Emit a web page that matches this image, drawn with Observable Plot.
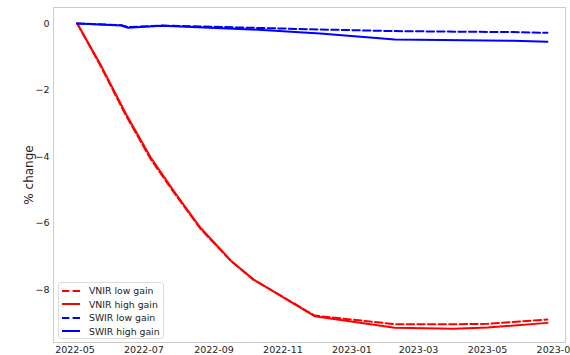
<!DOCTYPE html>
<html>
<head>
<meta charset="utf-8">
<script src="https://cdn.jsdelivr.net/npm/d3@7"></script>
<script src="https://cdn.jsdelivr.net/npm/@observablehq/plot@0.6"></script>
<style>
  html, body { margin: 0; padding: 0; background: #fff; }
  #wrap { position: relative; width: 570px; height: 355px; overflow: hidden; font-family: "DejaVu Sans", sans-serif; }
  #legend { position: absolute; left: 58px; top: 282px; width: 106px; height: 57px; border: 1px solid #dcdcdc; border-radius: 3px; background: rgba(255,255,255,0.85); box-sizing: border-box; padding-top: 1px; }
  .row { height: 13.5px; display: flex; align-items: center; font-size: 9.3px; color: #222; white-space: nowrap; }
  .row svg { margin-left: 3px; margin-right: 9px; flex: none; }
</style>
</head>
<body>
<div id="wrap"></div>
<script>
const vnirDates = ["2022-05-03","2022-05-24","2022-06-15","2022-07-07","2022-07-29","2022-08-20","2022-09-16","2022-10-06","2022-11-29","2023-02-08","2023-04-01","2023-05-01","2023-06-23"];
const vnirLow  = [0, -1.30, -2.76, -4.08, -5.15, -6.17, -7.14, -7.70, -8.78, -9.04, -9.04, -9.03, -8.90];
const vnirHigh = [0, -1.26, -2.71, -4.03, -5.11, -6.14, -7.13, -7.70, -8.80, -9.15, -9.18, -9.14, -9.00];

const swirDates = ["2022-05-03","2022-06-11","2022-06-17","2022-07-17","2022-10-04","2022-12-04","2023-02-08","2023-05-24","2023-06-23"];
const swirLow  = [0, -0.05, -0.11, -0.06, -0.13, -0.18, -0.23, -0.26, -0.28];
const swirHigh = [0, -0.06, -0.13, -0.07, -0.18, -0.30, -0.48, -0.52, -0.55];

const seriesNames = ["VNIR low gain", "VNIR high gain", "SWIR low gain", "SWIR high gain"];
const seriesColors = ["red", "red", "blue", "blue"];
const seriesDash = ["7.4,3.2", null, "7.4,3.2", null];

const xTicks = ["2022-05","2022-07","2022-09","2022-11","2023-01","2023-03","2023-05","2023-07"];
const yTicks = [0, -2, -4, -6, -8];

const parse = d3.utcParse("%Y-%m-%d");
const mk = (dates, vals) => dates.map((d, i) => ({date: parse(d), v: vals[i]}));
const series = [mk(vnirDates, vnirLow), mk(vnirDates, vnirHigh), mk(swirDates, swirLow), mk(swirDates, swirHigh)];

const lineMarks = series.map((data, i) => Plot.line(data, {
  x: "date", y: "v", stroke: seriesColors[i], strokeWidth: 2,
  strokeDasharray: seriesDash[i] || undefined
}));

const chart = Plot.plot({
  width: 570, height: 355,
  marginLeft: 53, marginRight: 5, marginTop: 7, marginBottom: 13,
  style: {fontFamily: "DejaVu Sans, sans-serif", fontSize: "9.5px", color: "#222", overflow: "visible"},
  x: {type: "utc", domain: [parse("2022-04-12"), parse("2023-07-09")]},
  y: {domain: [-9.59, 0.48]},
  marks: [
    Plot.frame({stroke: "#cccccc"}),
    Plot.axisX({ticks: xTicks.map(t => d3.utcParse("%Y-%m")(t)), tickFormat: d3.utcFormat("%Y-%m"), tickSize: 0, tickPadding: 4, label: null}),
    Plot.axisY({ticks: yTicks, tickFormat: d => d === 0 ? "0" : "\u2212" + Math.abs(d), tickSize: 0, tickPadding: 4, label: null}),
    Plot.text(["% change"], {frameAnchor: "left", rotate: -90, dx: -24, textAnchor: "middle", lineAnchor: "middle", fontSize: 12}),
    ...lineMarks
  ]
});

const wrap = document.getElementById("wrap");
wrap.appendChild(chart);

const legend = document.createElement("div");
legend.id = "legend";
seriesNames.forEach((name, i) => {
  const row = document.createElement("div");
  row.className = "row";
  const dash = seriesDash[i] ? `stroke-dasharray="${seriesDash[i]}"` : "";
  row.innerHTML = `<svg width="18" height="6"><line x1="0" y1="3" x2="18" y2="3" stroke="${seriesColors[i]}" stroke-width="2" ${dash}/></svg><span>${name}</span>`;
  legend.appendChild(row);
});
wrap.appendChild(legend);
</script>
</body>
</html>
